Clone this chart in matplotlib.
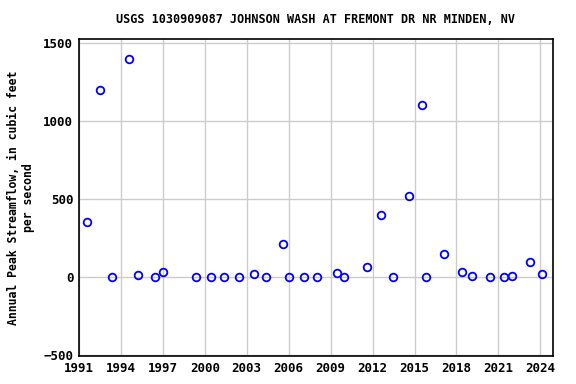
import matplotlib
matplotlib.use("Agg")
import matplotlib.pyplot as plt

# peak flow dates (decimal year) and values, cfs
years = [1991.55, 1992.5, 1993.4, 1994.55, 1995.2, 1996.45, 1997.0,
         1999.4, 2000.45, 2001.4, 2002.45, 2003.55, 2004.4, 2005.57,
         2006.0, 2007.1, 2008.0, 2009.43, 2009.98, 2011.57, 2012.57,
         2013.45, 2014.57, 2015.53, 2015.8, 2017.14, 2018.43, 2019.14,
         2020.43, 2021.43, 2022.0, 2023.29, 2024.11]
peaks = [352, 1200, 0, 1400, 11, 0, 32,
         0, 0, 0, 0, 17, 0, 210,
         0, 0, 0, 24, 0, 62, 395,
         0, 517, 1100, 0, 145, 32, 5,
         0, 0, 6, 94, 19]
xticks = [1991, 1994, 1997, 2000, 2003, 2006, 2009, 2012, 2015, 2018, 2021, 2024]
yticks = [-500, 0, 500, 1000, 1500]

plt.rcParams['font.family'] = ['DejaVu Sans Mono']
plt.rcParams['font.weight'] = 'bold'

fig = plt.figure(figsize=(5.76, 3.84), dpi=100)
ax = fig.add_axes([0.137, 0.073, 0.823, 0.825])
ax.plot(years, peaks, 'o', markerfacecolor='none', markeredgecolor='#0000ff',
        markeredgewidth=1.3, markersize=5.5, linestyle='none')
ax.set_xlim(1991, 2024.9)
ax.set_ylim(-506, 1524)
ax.set_xticks(xticks)
ax.set_yticks(yticks)
ax.grid(color='#cccccc', linewidth=1)
ax.set_axisbelow(True)
ax.tick_params(length=0, labelsize=9, pad=4)
for s in ax.spines.values():
    s.set_linewidth(1.2)
ax.set_title("USGS 1030909087 JOHNSON WASH AT FREMONT DR NR MINDEN, NV",
             fontsize=8.5, fontweight='bold', pad=12)
ax.set_ylabel("Annual Peak Streamflow, in cubic feet\nper second",
              fontsize=8.3, fontweight='bold', labelpad=6)
fig.savefig("out.png", dpi=100)
